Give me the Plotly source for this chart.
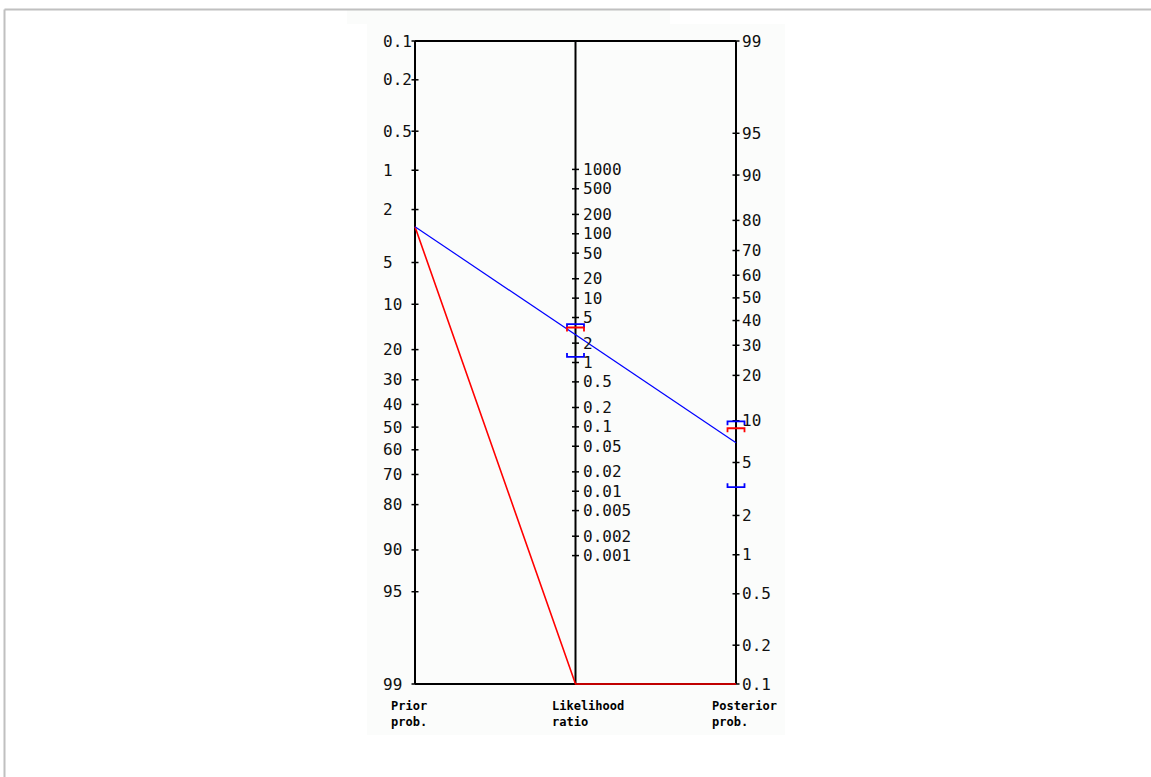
import numpy as np
import plotly.graph_objects as go

# ---- Fagan nomogram data -------------------------------------------------
prior_ticks = [0.1, 0.2, 0.5, 1, 2, 5, 10, 20, 30, 40, 50, 60, 70, 80, 90, 95, 99]
lr_ticks = [1000, 500, 200, 100, 50, 20, 10, 5, 2, 1, 0.5, 0.2, 0.1,
            0.05, 0.02, 0.01, 0.005, 0.002, 0.001]
post_ticks = [99, 95, 90, 80, 70, 60, 50, 40, 30, 20, 10, 5, 2, 1, 0.5, 0.2, 0.1]

prior_pct = 2.7                 # pre-test probability (%)
lr_positive = 2.7               # LR+ (blue)
lr_positive_ci = [1.22, 3.96]   # 95% CI of LR+
lr_negative = 0.0               # LR- (red)
lr_negative_ci_upper = 3.5      # upper CI bound of LR-

axis_titles = [("Prior", "prob."), ("Likelihood", "ratio"), ("Posterior", "prob.")]

# ---- scales ---------------------------------------------------------------
P_MIN, P_MAX = 0.1, 99.0


def logit(pct):
    p = np.asarray(pct, dtype=float) / 100.0
    with np.errstate(divide="ignore"):
        return np.log(p) - np.log1p(-p)


L_LO, L_HI = float(logit(P_MIN)), float(logit(P_MAX))
SPAN = L_HI - L_LO


def clip(v):
    return float(np.clip(v, 0.0, SPAN))


def y_prior(pct):
    return clip(logit(pct) - L_LO)


def y_post(pct):
    return clip(L_HI - logit(pct))


def y_lr(lr):
    with np.errstate(divide="ignore"):
        return clip((SPAN - np.log(float(lr))) / 2.0)


def posterior(pct, lr):
    odds = pct / (100.0 - pct) * lr
    return 100.0 * odds / (1.0 + odds)


# ---- page geometry (pixels) ----------------------------------------------
W, H = 1151, 777
X0_PX, X2_PX = 415, 736       # prior axis / posterior axis
Y0_PX, Y1_PX = 41, 684        # top / bottom of the scales
px_x = (X2_PX - X0_PX) / 2.0
px_y = (Y1_PX - Y0_PX) / SPAN
x_range = [-X0_PX / px_x, (W - X0_PX) / px_x]
y_range = [(H - Y0_PX) / px_y, -Y0_PX / px_y]

TICK = 3.5 / px_x
BR_W = 8.5 / px_x
BR_H = 4.0 / px_y

fig = go.Figure()

# frame of the nomogram: top, bottom and three vertical scales
fx, fy = [], []
for xs, ys in [([0, 2], [0, 0]), ([0, 2], [SPAN, SPAN]),
               ([0, 0], [0, SPAN]), ([1, 1], [0, SPAN]), ([2, 2], [0, SPAN])]:
    fx += xs + [None]
    fy += ys + [None]

# tick marks
tx, ty = [], []
for v in prior_ticks:
    tx += [-TICK, TICK, None]
    ty += [y_prior(v)] * 2 + [None]
for v in lr_ticks:
    tx += [1 - TICK, 1 + TICK, None]
    ty += [y_lr(v)] * 2 + [None]
for v in post_ticks:
    tx += [2 - TICK, 2 + TICK, None]
    ty += [y_post(v)] * 2 + [None]

fig.add_trace(go.Scatter(x=fx, y=fy, mode="lines",
                         line=dict(color="#000000", width=2), hoverinfo="skip"))
fig.add_trace(go.Scatter(x=tx, y=ty, mode="lines",
                         line=dict(color="#000000", width=1.5), hoverinfo="skip"))


def nomogram_line(lr, color, width):
    post = posterior(prior_pct, lr)
    fig.add_trace(go.Scatter(
        x=[0, 1, 2], y=[y_prior(prior_pct), y_lr(lr), y_post(post)],
        mode="lines", line=dict(color=color, width=width), hoverinfo="skip"))


def bracket(xc, yc, upper, color):
    d = BR_H if upper else -BR_H
    fig.add_trace(go.Scatter(
        x=[xc - BR_W, xc - BR_W, xc + BR_W, xc + BR_W],
        y=[yc + d, yc, yc, yc + d],
        mode="lines", line=dict(color=color, width=1.8), hoverinfo="skip"))


nomogram_line(lr_negative, "#ff0000", 1.6)
nomogram_line(lr_positive, "#0000ff", 1.2)

for lr, upper in [(lr_positive_ci[1], True), (lr_positive_ci[0], False)]:
    bracket(1, y_lr(lr), upper, "#0000ff")
    bracket(2, y_post(posterior(prior_pct, lr)), upper, "#0000ff")

bracket(1, y_lr(lr_negative_ci_upper), True, "#ff0000")
bracket(2, y_post(posterior(prior_pct, lr_negative_ci_upper)), True, "#ff0000")

# scale labels
ann = []
lab_font = dict(family="DejaVu Sans Mono", size=16, color="#111111")


def fmt(v):
    return ("%g" % v)


for v in prior_ticks:
    ann.append(dict(x=0, y=y_prior(v), text=fmt(v), xanchor="left", xshift=-33))
for v in lr_ticks:
    ann.append(dict(x=1, y=y_lr(v), text=fmt(v), xanchor="left", xshift=6))
for v in post_ticks:
    ann.append(dict(x=2, y=y_post(v), text=fmt(v), xanchor="left", xshift=5))
for a in ann:
    a.update(xref="x", yref="y", showarrow=False, yanchor="middle",
             font=lab_font, borderpad=0)

# axis titles, two lines each, under the scales
title_font = dict(family="DejaVu Sans Mono", size=12, color="#000000")
for i, (l1, l2) in enumerate(axis_titles):
    shift = [-25, -25, -25][i]
    ann.append(dict(x=i, y=SPAN, text="<b>%s</b><br><b>%s</b>" % (l1, l2),
                    xref="x", yref="y", showarrow=False,
                    xanchor="left", yanchor="top", align="left",
                    xshift=shift, yshift=-14,
                    font=title_font, borderpad=0))

fig.update_layout(
    width=W, height=H,
    margin=dict(l=0, r=0, t=0, b=0),
    paper_bgcolor="#ffffff", plot_bgcolor="rgba(0,0,0,0)",
    showlegend=False,
    xaxis=dict(range=x_range, visible=False, fixedrange=True),
    yaxis=dict(range=y_range, visible=False, fixedrange=True),
    annotations=ann,
    shapes=[
        dict(type="rect", xref="paper", yref="paper", layer="below",
             x0=367 / W, x1=785 / W, y0=1 - 735 / H, y1=1 - 24 / H,
             fillcolor="#fbfcfb", line=dict(width=0)),
        dict(type="rect", xref="paper", yref="paper", layer="below",
             x0=347 / W, x1=670 / W, y0=1 - 24 / H, y1=1 - 10 / H,
             fillcolor="#fbfcfb", line=dict(width=0)),
        dict(type="line", xref="paper", yref="paper",
             x0=4.5 / W, x1=1.0, y0=1 - 9.5 / H, y1=1 - 9.5 / H,
             line=dict(color="#c0c0c0", width=2)),
        dict(type="line", xref="paper", yref="paper",
             x0=4.5 / W, x1=4.5 / W, y0=1 - 9.5 / H, y1=0,
             line=dict(color="#c0c0c0", width=2)),
    ],
)

fig.write_html("out.html")
